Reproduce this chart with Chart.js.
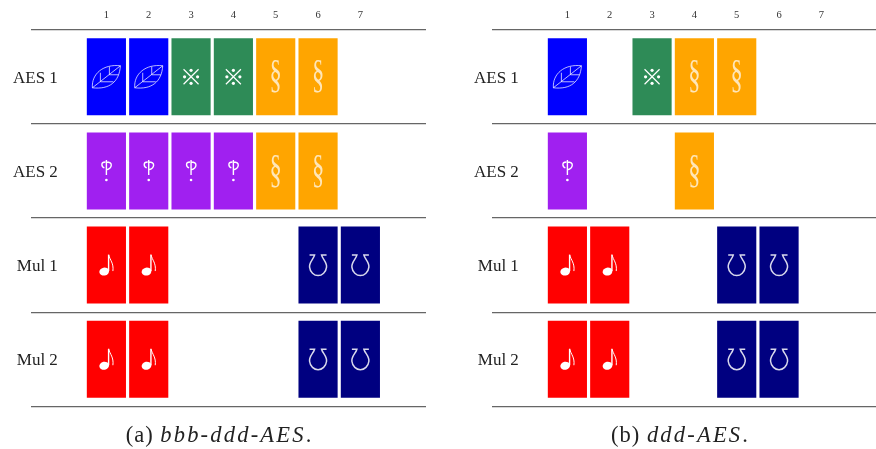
<!DOCTYPE html>
<html>
<head>
<meta charset="utf-8">
<style>
  html, body { margin: 0; padding: 0; background: #fff; overflow: hidden; width: 876px; height: 449px; }
  .panel { position: absolute; top: 0; width: 438px; height: 449px; }
  .panel canvas { position: absolute; left: 0; top: 0; }
  .caption {
    position: absolute; left: 0; top: 422px; width: 438px; text-align: center;
    font: 22.5px "Liberation Serif", serif; color: #222; letter-spacing: 1px; white-space: nowrap;
  }
  .caption i { letter-spacing: 2.2px; }
</style>
<script src="https://cdn.jsdelivr.net/npm/chart.js@4"></script>
</head>
<body>
<div class="panel" style="left:0"><canvas id="chartA"></canvas><div class="caption">(a) <i>bbb-ddd-AES</i>.</div></div>
<div class="panel" style="left:461px"><canvas id="chartB"></canvas><div class="caption">(b) <i>ddd-AES</i>.</div></div>
<script>
const COLUMNS = [1, 2, 3, 4, 5, 6, 7];
const ROW_NAMES = [`AES 1`, `AES 2`, `Mul 1`, `Mul 2`];

// cell contents per row, one entry per column
const A_AES_1 = [`leaf`, `leaf`, `star`, `star`, `sect`, `sect`, null];
const A_AES_2 = [`tack`, `tack`, `tack`, `tack`, `sect`, `sect`, null];
const A_MUL_1 = [`note`, `note`, null, null, null, `ohm`, `ohm`];
const A_MUL_2 = [`note`, `note`, null, null, null, `ohm`, `ohm`];

const B_AES_1 = [`leaf`, null, `star`, `sect`, `sect`, null, null];
const B_AES_2 = [`tack`, null, null, `sect`, null, null, null];
const B_MUL_1 = [`note`, `note`, null, null, `ohm`, `ohm`, null];
const B_MUL_2 = [`note`, `note`, null, null, `ohm`, `ohm`, null];

const CELL_START = 0.095;
const CELL_END = 0.905;
const LABEL_OFFSET = 0.515;

const COLORS = {
  leaf: `#0000ff`,
  star: `#2e8b57`,
  sect: `#ffa500`,
  tack: `#a020f0`,
  note: `#ff0000`,
  ohm: `#000080`,
};

const SERIF = `"Liberation Serif", serif`;

const drawLeaf = (ctx, x, y) => {
  ctx.strokeStyle = `rgba(255, 255, 255, 0.8)`;
  ctx.lineWidth = 0.9;
  ctx.beginPath();
  ctx.moveTo(x - 14, y + 11);
  ctx.bezierCurveTo(x - 15, y - 3, x - 3, y - 13, x + 14, y - 11);
  ctx.bezierCurveTo(x + 13, y + 5, x + 3, y + 13, x - 14, y + 11);
  ctx.moveTo(x - 14, y + 11);
  ctx.lineTo(x + 14, y - 11);
  ctx.moveTo(x - 6, y + 5);
  ctx.lineTo(x - 6, y - 4);
  ctx.moveTo(x - 6, y + 5);
  ctx.lineTo(x + 7, y + 5);
  ctx.moveTo(x + 3, y - 2);
  ctx.lineTo(x + 3, y - 10);
  ctx.moveTo(x + 3, y - 2);
  ctx.lineTo(x + 12, y - 2);
  ctx.stroke();
};

const drawStar = (ctx, x, y) => {
  ctx.strokeStyle = `#fff`;
  ctx.fillStyle = `#fff`;
  ctx.lineWidth = 1.2;
  ctx.beginPath();
  ctx.moveTo(x - 7.5, y - 7.5);
  ctx.lineTo(x + 7.5, y + 7.5);
  ctx.moveTo(x + 7.5, y - 7.5);
  ctx.lineTo(x - 7.5, y + 7.5);
  ctx.stroke();
  [[-6.5, 0], [6.5, 0], [0, -6.5], [0, 6.5]].forEach(([dx, dy]) => {
    ctx.beginPath();
    ctx.arc(x + dx, y + dy, 1.6, 0, Math.PI * 2);
    ctx.fill();
  });
};

const drawSect = (ctx, x, y) => {
  ctx.save();
  ctx.translate(x, y);
  ctx.scale(0.72, 1.2);
  ctx.font = `34px "Liberation Serif"`;
  ctx.fillStyle = `rgba(255, 255, 255, 0.72)`;
  ctx.fillText(`§`, 0, 0);
  ctx.restore();
};

const drawTack = (ctx, x, y) => {
  ctx.strokeStyle = `#fff`;
  ctx.fillStyle = `#fff`;
  ctx.lineWidth = 1.4;
  ctx.beginPath();
  ctx.moveTo(x, y - 11);
  ctx.lineTo(x, y + 4);
  ctx.moveTo(x, y - 9);
  ctx.bezierCurveTo(x + 7, y - 9, x + 6, y - 3, x, y - 1);
  ctx.moveTo(x - 1, y - 9);
  ctx.bezierCurveTo(x - 6, y - 9, x - 5, y - 4, x - 2, y - 3);
  ctx.stroke();
  ctx.beginPath();
  ctx.arc(x, y + 9, 1.3, 0, Math.PI * 2);
  ctx.fill();
};

const drawNote = (ctx, x, y) => {
  ctx.strokeStyle = `#fff`;
  ctx.fillStyle = `#fff`;
  ctx.beginPath();
  ctx.ellipse(x - 2.2, y + 6.5, 4.9, 4, -0.2, 0, Math.PI * 2);
  ctx.fill();
  ctx.lineWidth = 1.4;
  ctx.beginPath();
  ctx.moveTo(x + 2.2, y + 6);
  ctx.lineTo(x + 2.2, y - 10.5);
  ctx.stroke();
  ctx.lineWidth = 1;
  ctx.beginPath();
  ctx.moveTo(x + 2.4, y - 10);
  ctx.bezierCurveTo(x + 3.5, y - 5, x + 7.5, y - 2, x + 6.5, y + 6);
  ctx.stroke();
};

const drawOhm = (ctx, x, y) => {
  ctx.strokeStyle = `rgba(255, 255, 255, 0.85)`;
  ctx.lineWidth = 1.5;
  ctx.beginPath();
  ctx.moveTo(x - 8.5, y - 10);
  ctx.lineTo(x - 3.5, y - 10);
  ctx.bezierCurveTo(x - 4.5, y - 6, x - 9, y - 3, x - 8.5, y + 2);
  ctx.bezierCurveTo(x - 8, y + 7, x - 4, y + 10.5, x, y + 10.5);
  ctx.bezierCurveTo(x + 4, y + 10.5, x + 8, y + 7, x + 8.5, y + 2);
  ctx.bezierCurveTo(x + 9, y - 3, x + 4.5, y - 6, x + 3.5, y - 10);
  ctx.lineTo(x + 8.5, y - 10);
  ctx.stroke();
};

const SYMBOL_DRAWERS = {
  leaf: drawLeaf,
  star: drawStar,
  sect: drawSect,
  tack: drawTack,
  note: drawNote,
  ohm: drawOhm,
};

const symbolPlugin = {
  id: `cellSymbols`,
  afterDatasetsDraw(chart) {
    const {ctx} = chart;
    ctx.save();
    ctx.textAlign = `center`;
    ctx.textBaseline = `middle`;
    chart.data.datasets.forEach((dataset, i) => {
      chart.getDatasetMeta(i).data.forEach((bar, j) => {
        SYMBOL_DRAWERS[dataset.data[j].symbol](ctx, bar.x, (bar.y + bar.base) / 2);
      });
    });
    ctx.restore();
  },
};

const createDataset = (cells, row) => ({
  label: ROW_NAMES[row],
  data: COLUMNS
    .map((column, i) => ({x: column, y: [row + CELL_START, row + CELL_END], symbol: cells[i]}))
    .filter((cell) => cell.symbol),
  backgroundColor: (context) => COLORS[context.raw.symbol],
  barThickness: 38.5,
  grouped: false,
});

const createChart = (id, rows) => new Chart(document.getElementById(id), {
  type: `bar`,
  plugins: [symbolPlugin],
  data: {
    datasets: rows.map(createDataset),
  },
  options: {
    responsive: false,
    animation: false,
    events: [],
    layout: {padding: {right: 12, bottom: 42.7}},
    plugins: {
      legend: {display: false},
      title: {display: false},
      tooltip: {enabled: false},
    },
    scales: {
      x: {
        type: `linear`,
        position: `top`,
        offset: false,
        min: -0.781,
        max: 8.55,
        afterBuildTicks: (scale) => {
          scale.ticks = COLUMNS.map((value) => ({value}));
        },
        afterFit: (scale) => {
          scale.height = 29.7;
        },
        grid: {display: false, drawTicks: false},
        border: {display: false},
        ticks: {
          autoSkip: false,
          maxRotation: 0,
          padding: 8,
          color: `#333`,
          font: {family: SERIF, size: 10.5},
          callback: (value) => value,
        },
      },
      y: {
        type: `linear`,
        reverse: true,
        min: 0,
        max: ROW_NAMES.length,
        afterBuildTicks: (scale) => {
          const ticks = [];
          for (let i = 0; i <= ROW_NAMES.length; i++) {
            ticks.push({value: i});
            if (i < ROW_NAMES.length) {
              ticks.push({value: i + LABEL_OFFSET});
            }
          }
          scale.ticks = ticks;
        },
        afterFit: (scale) => {
          scale.width = 31;
        },
        grid: {
          drawTicks: false,
          lineWidth: 1.2,
          color: (context) => (Number.isInteger(context.tick.value) ? `#666` : `transparent`),
        },
        border: {display: false},
        ticks: {
          autoSkip: false,
          mirror: true,
          crossAlign: `far`,
          padding: -18,
          color: `#222`,
          font: {family: SERIF, size: 17},
          callback: (value) => (Number.isInteger(value) ? `` : ROW_NAMES[Math.floor(value)]),
        },
      },
    },
  },
});

for (const id of [`chartA`, `chartB`]) {
  const canvas = document.getElementById(id);
  canvas.width = 438;
  canvas.height = 449;
}

createChart(`chartA`, [A_AES_1, A_AES_2, A_MUL_1, A_MUL_2]);
createChart(`chartB`, [B_AES_1, B_AES_2, B_MUL_1, B_MUL_2]);
</script>
</body>
</html>
